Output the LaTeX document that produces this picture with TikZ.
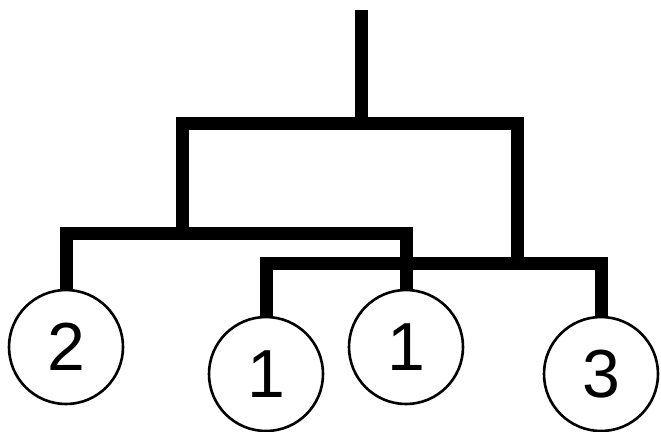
\documentclass[tikz,border=0pt]{standalone}
\usepackage{fontspec}
\setmainfont{Liberation Sans}
\begin{document}
\begin{tikzpicture}[x=1pt,y=-1pt,
  bar/.style={line width=13pt,line join=miter,line cap=butt},
  leaf/.style={circle,draw,line width=2.6pt,minimum size=114pt,inner sep=0pt,
    font=\fontsize{68}{68}\selectfont}]
\useasboundingbox (0,0) rectangle (661,431);
\node[leaf] (c2) at (66,347) {2};
\node[leaf] (c1a) at (266,374) {1};
\node[leaf] (c1b) at (406,347) {1};
\node[leaf] (c3) at (601,374) {3};
\coordinate (top) at (361,10);
\coordinate (j0) at (361,123);
\coordinate (L1) at (182,233);
\coordinate (R1) at (517,263);
\draw[bar] (top) -- (j0);
\draw[bar] (L1) |- (j0) -| (R1);
\draw[bar] (c2.north) |- (L1) -| (c1b.north);
\draw[bar] (c1a.north) |- (R1) -| (c3.north);
\end{tikzpicture}
\end{document}
